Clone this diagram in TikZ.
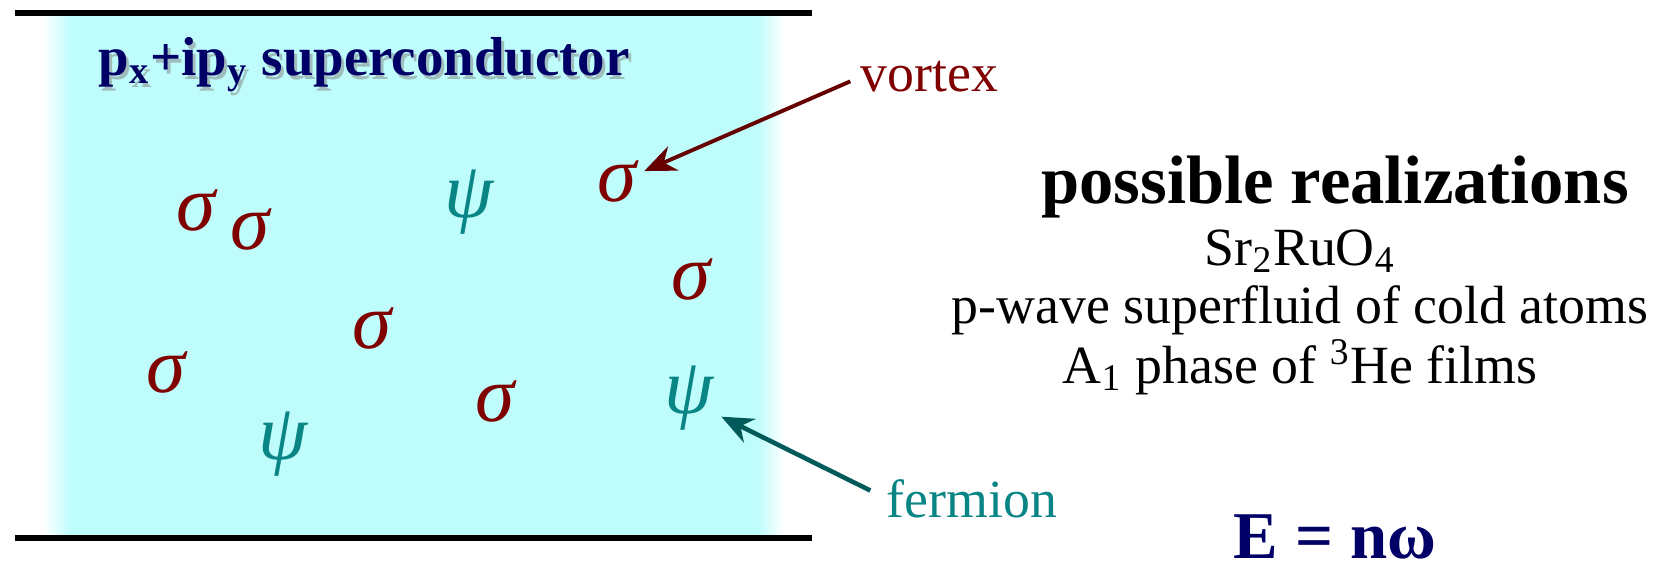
\documentclass[tikz,border=0pt]{standalone}
\usepackage{fontspec}
\setmainfont{Liberation Serif}
\usetikzlibrary{arrows.meta,positioning}
\definecolor{bgcyan}{HTML}{BFFCFC}
\definecolor{vortred}{HTML}{800000}
\definecolor{vortarrow}{HTML}{660000}
\definecolor{fermteal}{HTML}{0A8585}
\definecolor{fermarrow}{HTML}{005A5A}
\definecolor{navy}{HTML}{000066}

\begin{document}
\begin{tikzpicture}[x=0.01cm,y=-0.01cm,
    sig/.style={text=vortred,font=\fontsize{22.5}{22}\selectfont\itshape,inner sep=2pt},
    psi/.style={text=fermteal,font=\fontsize{22.5}{22}\selectfont\itshape,inner sep=2pt},
    lab/.style={font=\fontsize{15.3}{18}\selectfont,anchor=base west,inner sep=0pt},
    real/.style={font=\fontsize{15.3}{18}\selectfont,anchor=base,inner sep=0pt},
    film/.style={font=\fontsize{15.6}{18}\selectfont\bfseries,anchor=base west,inner sep=0pt}]
    \useasboundingbox (0,0) rectangle (1661,567);
    % the film
    \fill[bgcyan] (70,13) rectangle (758,538);
    \shade[left color=white,right color=bgcyan] (44,13) rectangle (70,538);
    \shade[left color=bgcyan,right color=white] (758,13) rectangle (784,538);
    \draw[line width=1.7pt] (15,13) -- (812,13);
    \draw[line width=1.7pt] (15,538) -- (812,538);
    \node[film,text=black!50,opacity=0.5] (titleshadow) at (101,80) {p\textsubscript{x}+ip\textsubscript{y} superconductor};
    \node[film,text=navy] (title) at (98,76) {p\textsubscript{x}+ip\textsubscript{y} superconductor};
    % vortices and fermions
    \node[sig] (s1) at (196,210) {σ};
    \node[sig] (s2) at (250,229) {σ};
    \node[sig] (s3) at (617,181) {σ};
    \node[sig] (s4) at (691,279) {σ};
    \node[sig] (s5) at (372,328) {σ};
    \node[sig] (s6) at (166,372) {σ};
    \node[sig] (s7) at (495,401) {σ};
    \node[psi] (p1) at (469,202) {ψ};
    \node[psi] (p2) at (689,398) {ψ};
    \node[psi] (p3) at (283,444) {ψ};
    \node[lab,text=vortred] (vortex) at (860,92) {vortex};
    \node[lab,text=fermteal] (fermion) at (886,517) {fermion};
    \draw[vortarrow,line width=1.1pt,shorten <=3pt,-{Stealth[length=9pt,width=7.5pt]}] (vortex.west) -- (s3.20);
    \draw[fermarrow,line width=1.3pt,shorten <=5pt,-{Stealth[length=9pt,width=7.5pt]}] (fermion.west) -- (p2.-30);
    % realizations
    \node[real,font=\fontsize{19.5}{22}\selectfont\bfseries] (head) at (1335,204) {possible realizations};
    \node[real] (sro) at (1300,265) {Sr\textsubscript{2}RuO\textsubscript{4}};
    \node[real] (atoms) at (1300,323) {p-wave superfluid of cold atoms};
    \node[real] (helium) at (1300,383) {A\textsubscript{1} phase of \textsuperscript{3}He films};
    \node[real,text=navy,font=\fontsize{19}{22}\selectfont\bfseries] (energy) at (1335,558) {E = nω};
\end{tikzpicture}
\end{document}
